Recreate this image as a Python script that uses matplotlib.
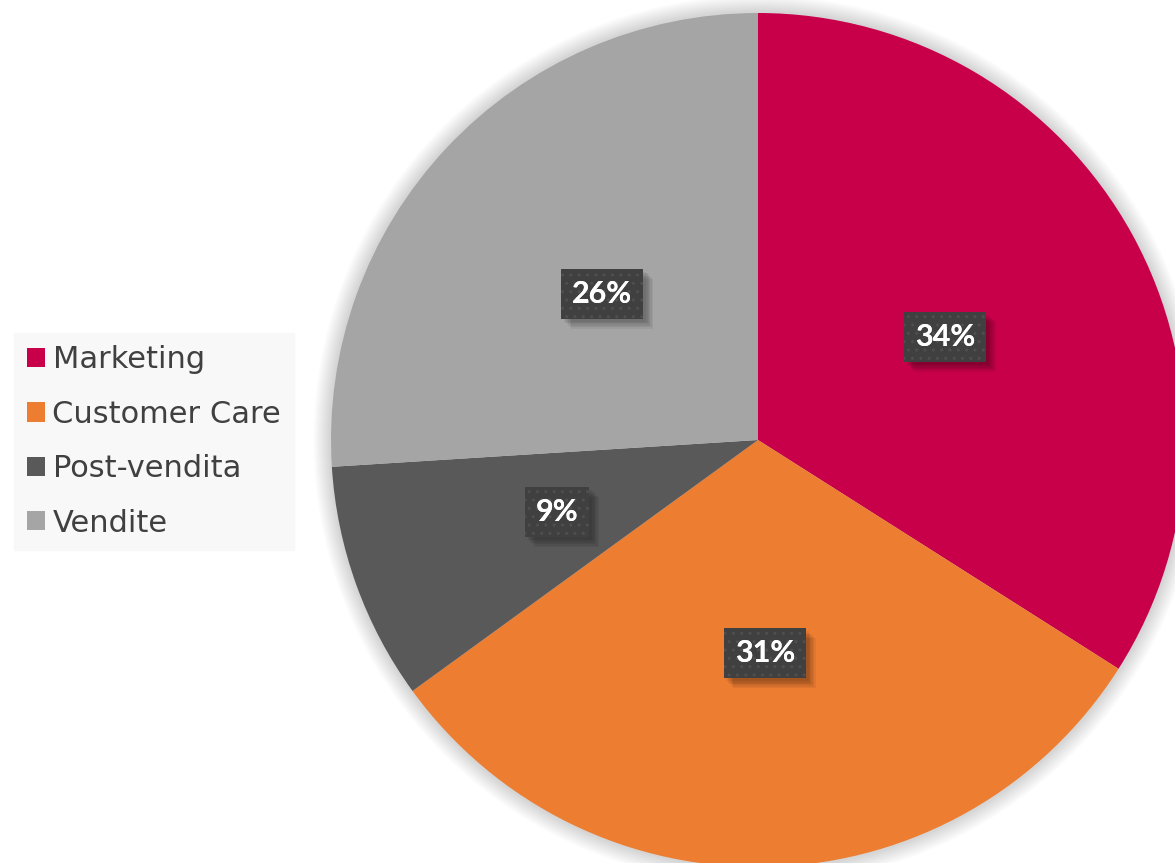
import matplotlib
matplotlib.use("Agg")
import matplotlib.pyplot as plt
from matplotlib.patches import Circle, Patch
import matplotlib.patheffects as pe

categories = ["Marketing", "Customer Care", "Post-vendita", "Vendite"]
shares = [34, 31, 9, 26]
colors = ["#C8004A", "#ED7D31", "#595959", "#A5A5A5"]

W, H = 1175, 863
cx, cy = 758, 440
R = 427

fig = plt.figure(figsize=(W / 100, H / 100), dpi=100)
fig.patch.set_facecolor("white")
ax = fig.add_axes([0, 0, 1, 1])

wedges, texts, autotexts = ax.pie(
    shares, colors=colors, radius=R, startangle=90, counterclock=False,
    autopct=lambda p: f"{p:.0f}%", pctdistance=0.5,
    wedgeprops=dict(linewidth=0), textprops=dict(zorder=5),
)
for w in wedges:
    w.set_zorder(2)

# soft shadow around the pie
for i in range(14):
    ax.add_patch(Circle((0, 0), R + 2 + i * 1.2, facecolor="black",
                        alpha=0.012, edgecolor="none", zorder=0))

ax.set_xlim(-cx, W - cx)
ax.set_ylim(-(H - cy), cy)
ax.set_aspect("equal")
ax.axis("off")

# blurred drop shadow for the value boxes
box_shadow = [pe.SimplePatchShadow(offset=(d, -d), shadow_rgbFace="black", alpha=0.06)
              for d in (2, 3, 4, 5, 6, 7)] + [pe.Normal()]

label_font = dict(color="white", fontsize=22, fontweight="bold",
                  family=["Lato", "DejaVu Sans"], ha="center", va="center")
for t in autotexts:
    t.set_visible(False)
    x, y = t.get_position()
    s = t.get_text()
    # solid box with shadow
    ax.text(x, y, s, zorder=5, **label_font,
            bbox=dict(boxstyle="square,pad=0.36", facecolor="#404040",
                      edgecolor="none", linewidth=0, path_effects=box_shadow))
    # dotted texture on top of the box
    ax.text(x, y, s, zorder=6, **label_font,
            bbox=dict(boxstyle="square,pad=0.36", facecolor="none",
                      edgecolor="#4f4f4f", hatch="..", linewidth=0))

handles = [Patch(facecolor=c, edgecolor="none") for c in colors]
leg = fig.legend(handles, categories, loc="center left",
                 bbox_to_anchor=(14 / W, 1 - 441.5 / H),
                 frameon=True, fancybox=False, framealpha=1,
                 facecolor="#F8F8F8", edgecolor="#F8F8F8",
                 handlelength=0.59, handleheight=0.59, handletextpad=0.25,
                 labelspacing=0.83, borderpad=0.42, borderaxespad=0,
                 prop={"family": ["DejaVu Sans"], "size": 22})
for t in leg.get_texts():
    t.set_color("#404040")

fig.savefig("out.png", dpi=100)
